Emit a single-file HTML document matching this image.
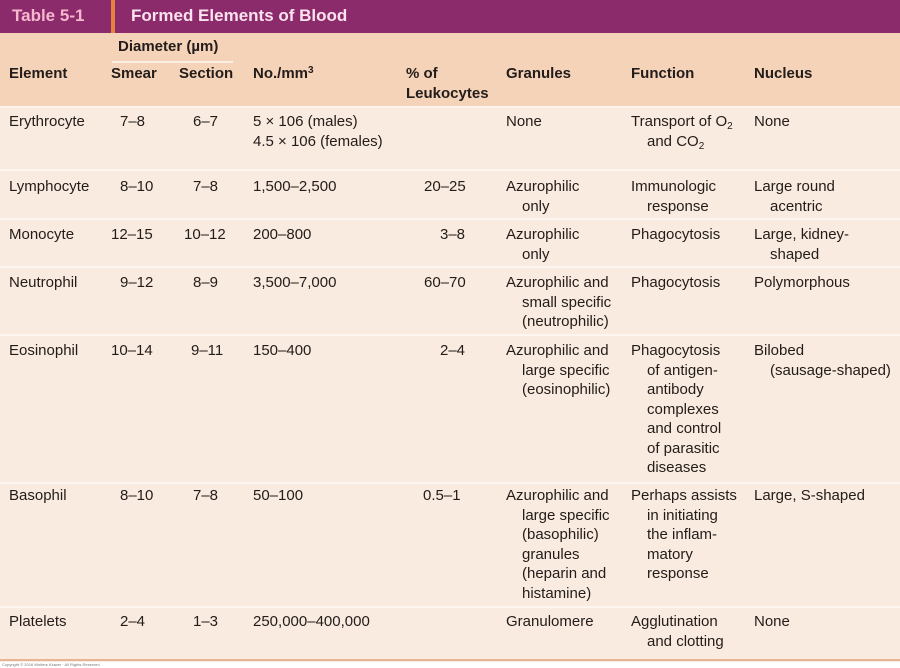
<!DOCTYPE html>
<html><head><meta charset="utf-8"><style>
body{margin:0;width:900px;height:668px;background:#fff;overflow:hidden;font-family:"Liberation Sans","DejaVu Sans",sans-serif;}
#t{position:absolute;left:0;top:0;width:900px;height:662px;background:#f9ebdf;}
.bar{position:absolute;left:0;top:0;width:900px;height:33px;background:#8c2b6c;}
.hd{position:absolute;left:0;top:33px;width:900px;height:74px;background:#f4d3b9;}
.c{position:absolute;font-size:15px;line-height:19.5px;color:#231c1a;white-space:nowrap;}
.b{font-weight:bold;}
.sep{position:absolute;left:0;width:900px;height:2px;background:#fdf6f0;}
.i{padding-left:16px;}
sub{font-size:10px;vertical-align:-3px;line-height:0;}
sup{font-size:10px;vertical-align:5px;line-height:0;}
</style></head><body>
<div id="t">
<div class="bar"></div>
<div style="position:absolute;left:111px;top:0;width:4px;height:33px;background:#e8823a"></div>
<div class="c b" style="left:12px;top:6px;font-size:17px;color:#f6b7cf">Table 5-1</div>
<div class="c b" style="left:131px;top:6px;font-size:17px;color:#fbe3ee">Formed Elements of Blood</div>
<div class="hd"></div>
<div style="position:absolute;left:112px;top:61px;width:121px;height:2px;background:#fbeee3"></div>
<div class="c b" style="left:118px;top:37px">Diameter (µm)</div>
<div class="c b" style="left:9px;top:64px">Element</div>
<div class="c b" style="left:111px;top:64px">Smear</div>
<div class="c b" style="left:179px;top:64px">Section</div>
<div class="c b" style="left:253px;top:64px">No./mm<sup>3</sup></div>
<div class="c b" style="left:406px;top:64px">% of<br>Leukocytes</div>
<div class="c b" style="left:506px;top:64px">Granules</div>
<div class="c b" style="left:631px;top:64px">Function</div>
<div class="c b" style="left:754px;top:64px">Nucleus</div>
<div class="sep" style="top:106px;background:#fbf3ec"></div>

<div class="c" style="left:9px;top:112px">Erythrocyte</div>
<div class="c" style="left:120px;top:112px">7–8</div>
<div class="c" style="left:193px;top:112px">6–7</div>
<div class="c" style="left:253px;top:112px">5 × 106 (males)<br>4.5 × 106 (females)</div>
<div class="c" style="left:506px;top:112px">None</div>
<div class="c" style="left:631px;top:112px">Transport of O<sub>2</sub><br><span class="i">and CO<sub>2</sub></span></div>
<div class="c" style="left:754px;top:112px">None</div>
<div class="sep" style="top:169px"></div>

<div class="c" style="left:9px;top:177px">Lymphocyte</div>
<div class="c" style="left:120px;top:177px">8–10</div>
<div class="c" style="left:193px;top:177px">7–8</div>
<div class="c" style="left:253px;top:177px">1,500–2,500</div>
<div class="c" style="left:424px;top:177px">20–25</div>
<div class="c" style="left:506px;top:177px">Azurophilic<br><span class="i">only</span></div>
<div class="c" style="left:631px;top:177px">Immunologic<br><span class="i">response</span></div>
<div class="c" style="left:754px;top:177px">Large round<br><span class="i">acentric</span></div>
<div class="sep" style="top:218px"></div>

<div class="c" style="left:9px;top:225px">Monocyte</div>
<div class="c" style="left:111px;top:225px">12–15</div>
<div class="c" style="left:184px;top:225px">10–12</div>
<div class="c" style="left:253px;top:225px">200–800</div>
<div class="c" style="left:440px;top:225px">3–8</div>
<div class="c" style="left:506px;top:225px">Azurophilic<br><span class="i">only</span></div>
<div class="c" style="left:631px;top:225px">Phagocytosis</div>
<div class="c" style="left:754px;top:225px">Large, kidney-<br><span class="i">shaped</span></div>
<div class="sep" style="top:266px"></div>

<div class="c" style="left:9px;top:273px">Neutrophil</div>
<div class="c" style="left:120px;top:273px">9–12</div>
<div class="c" style="left:193px;top:273px">8–9</div>
<div class="c" style="left:253px;top:273px">3,500–7,000</div>
<div class="c" style="left:424px;top:273px">60–70</div>
<div class="c" style="left:506px;top:273px">Azurophilic and<br><span class="i">small specific</span><br><span class="i">(neutrophilic)</span></div>
<div class="c" style="left:631px;top:273px">Phagocytosis</div>
<div class="c" style="left:754px;top:273px">Polymorphous</div>
<div class="sep" style="top:334px"></div>

<div class="c" style="left:9px;top:341px">Eosinophil</div>
<div class="c" style="left:111px;top:341px">10–14</div>
<div class="c" style="left:191px;top:341px">9–11</div>
<div class="c" style="left:253px;top:341px">150–400</div>
<div class="c" style="left:440px;top:341px">2–4</div>
<div class="c" style="left:506px;top:341px">Azurophilic and<br><span class="i">large specific</span><br><span class="i">(eosinophilic)</span></div>
<div class="c" style="left:631px;top:341px">Phagocytosis<br><span class="i">of antigen-</span><br><span class="i">antibody</span><br><span class="i">complexes</span><br><span class="i">and control</span><br><span class="i">of parasitic</span><br><span class="i">diseases</span></div>
<div class="c" style="left:754px;top:341px">Bilobed<br><span class="i">(sausage-shaped)</span></div>
<div class="sep" style="top:482px"></div>

<div class="c" style="left:9px;top:486px">Basophil</div>
<div class="c" style="left:120px;top:486px">8–10</div>
<div class="c" style="left:193px;top:486px">7–8</div>
<div class="c" style="left:253px;top:486px">50–100</div>
<div class="c" style="left:423px;top:486px">0.5–1</div>
<div class="c" style="left:506px;top:486px">Azurophilic and<br><span class="i">large specific</span><br><span class="i">(basophilic)</span><br><span class="i">granules</span><br><span class="i">(heparin and</span><br><span class="i">histamine)</span></div>
<div class="c" style="left:631px;top:486px">Perhaps assists<br><span class="i">in initiating</span><br><span class="i">the inflam-</span><br><span class="i">matory</span><br><span class="i">response</span></div>
<div class="c" style="left:754px;top:486px">Large, S-shaped</div>
<div class="sep" style="top:606px"></div>

<div class="c" style="left:9px;top:612px">Platelets</div>
<div class="c" style="left:120px;top:612px">2–4</div>
<div class="c" style="left:193px;top:612px">1–3</div>
<div class="c" style="left:253px;top:612px">250,000–400,000</div>
<div class="c" style="left:506px;top:612px">Granulomere</div>
<div class="c" style="left:631px;top:612px">Agglutination<br><span class="i">and clotting</span></div>
<div class="c" style="left:754px;top:612px">None</div>
<div style="position:absolute;left:0;top:659px;width:900px;height:2px;background:#e6b597"></div>
</div>
<div class="c" style="left:2px;top:662px;font-size:4px;line-height:5px;color:#777">Copyright © 2016 Wolters Kluwer · All Rights Reserved</div>
</body></html>
